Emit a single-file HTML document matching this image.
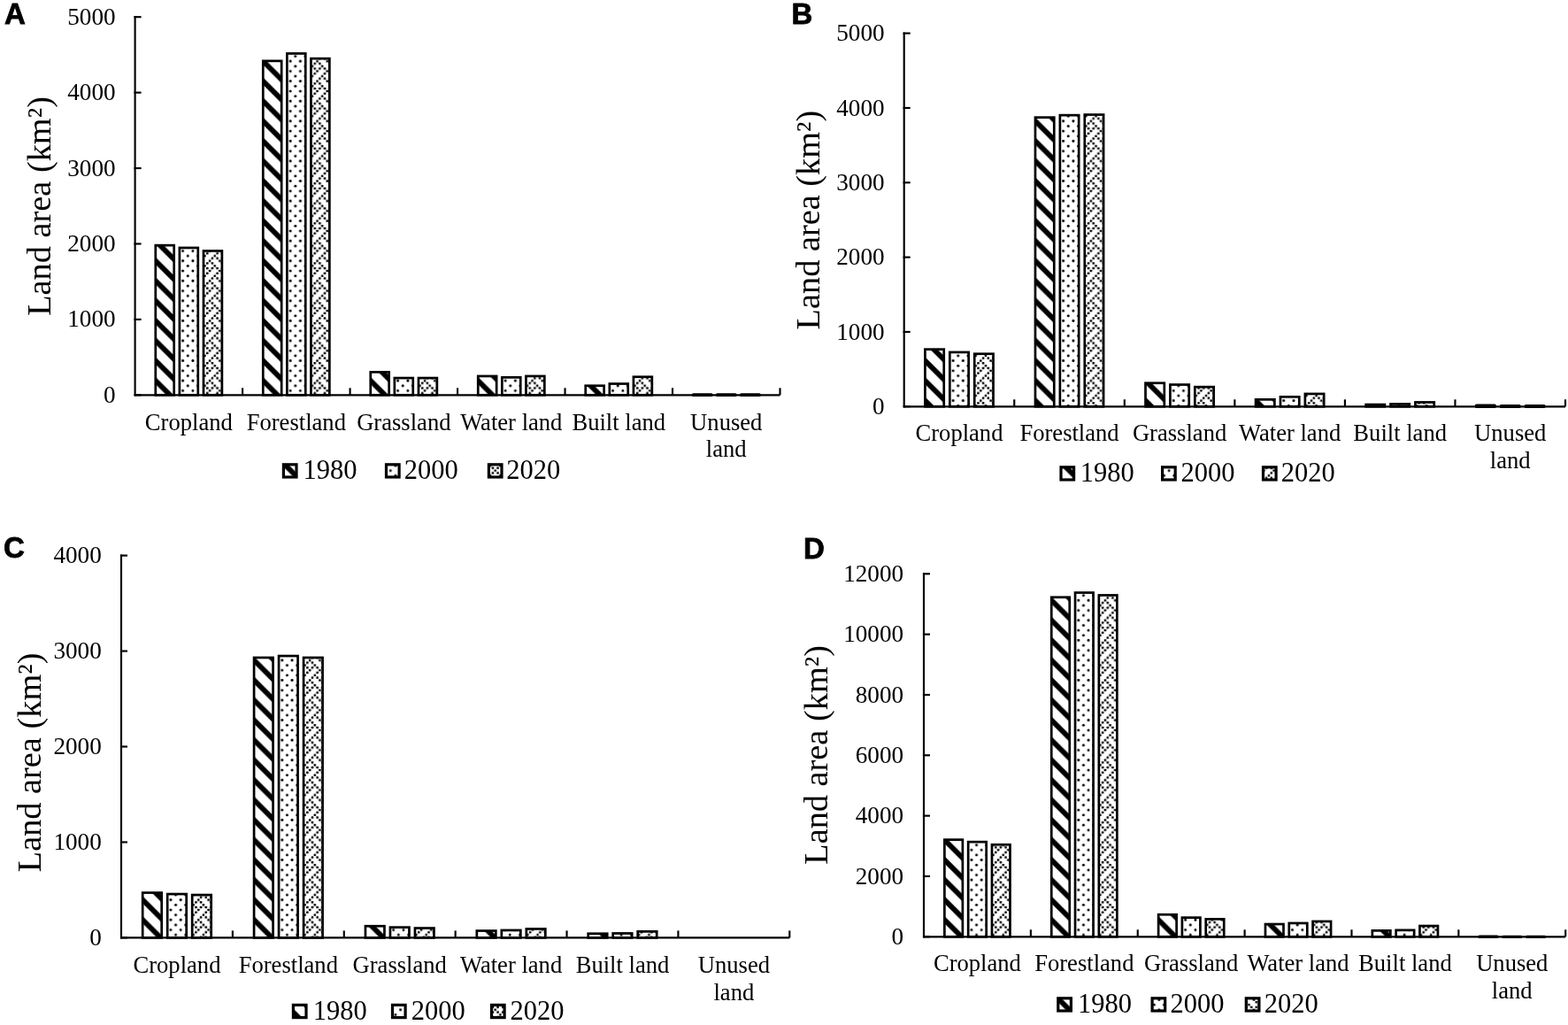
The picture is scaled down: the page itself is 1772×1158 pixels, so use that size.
<!DOCTYPE html>
<html><head><meta charset="utf-8"><title>Land area by land-use type</title><style>html,body{margin:0;padding:0;background:#fff;}body{width:1772px;height:1158px;overflow:hidden;}svg{display:block;}</style></head><body>
<svg width="1772" height="1158" viewBox="0 0 1772 1158">
<defs><pattern id="p1980" patternUnits="userSpaceOnUse" width="22.56" height="22.56"><rect width="22.56" height="22.56" fill="#fff"/><path d="M-6,-6L28.56,28.56 M-6,16.56 L6,28.56 M16.56,-6 L28.56,6" stroke="#000" stroke-width="5.8"/></pattern><pattern id="p2000" patternUnits="userSpaceOnUse" width="22.56" height="22.56"><rect width="22.56" height="22.56" fill="#fff"/><circle cx="1.41" cy="1.41" r="1.5"/><circle cx="12.69" cy="1.41" r="1.5"/><circle cx="7.05" cy="7.05" r="1.5"/><circle cx="18.33" cy="7.05" r="1.5"/><circle cx="1.41" cy="12.69" r="1.5"/><circle cx="12.69" cy="12.69" r="1.5"/><circle cx="7.05" cy="18.33" r="1.5"/><circle cx="18.33" cy="18.33" r="1.5"/></pattern><pattern id="p2020" patternUnits="userSpaceOnUse" width="22.56" height="22.56"><rect width="22.56" height="22.56" fill="#fff"/><rect x="5.78" y="0.14" width="2.55" height="2.55" rx="0.6"/><rect x="17.05" y="0.14" width="2.55" height="2.55" rx="0.6"/><rect x="2.95" y="2.95" width="2.55" height="2.55" rx="0.6"/><rect x="8.59" y="2.95" width="2.55" height="2.55" rx="0.6"/><rect x="19.88" y="2.95" width="2.55" height="2.55" rx="0.6"/><rect x="0.14" y="5.78" width="2.55" height="2.55" rx="0.6"/><rect x="11.41" y="5.78" width="2.55" height="2.55" rx="0.6"/><rect x="2.95" y="8.59" width="2.55" height="2.55" rx="0.6"/><rect x="8.59" y="8.59" width="2.55" height="2.55" rx="0.6"/><rect x="14.23" y="8.59" width="2.55" height="2.55" rx="0.6"/><rect x="19.88" y="8.59" width="2.55" height="2.55" rx="0.6"/><rect x="5.78" y="11.41" width="2.55" height="2.55" rx="0.6"/><rect x="17.05" y="11.41" width="2.55" height="2.55" rx="0.6"/><rect x="2.95" y="14.23" width="2.55" height="2.55" rx="0.6"/><rect x="14.23" y="14.23" width="2.55" height="2.55" rx="0.6"/><rect x="19.88" y="14.23" width="2.55" height="2.55" rx="0.6"/><rect x="0.14" y="17.05" width="2.55" height="2.55" rx="0.6"/><rect x="11.41" y="17.05" width="2.55" height="2.55" rx="0.6"/><rect x="8.59" y="19.88" width="2.55" height="2.55" rx="0.6"/><rect x="14.23" y="19.88" width="2.55" height="2.55" rx="0.6"/><rect x="19.88" y="19.88" width="2.55" height="2.55" rx="0.6"/></pattern></defs>
<rect width="1772" height="1158" fill="#fff"/>
<text x="5" y="27" font-family="'Liberation Sans', Arial, sans-serif" font-weight="bold" font-size="33" stroke="#000" stroke-width="0.8">A</text><line x1="151.53" y1="446.3" x2="159.6" y2="446.3" stroke="#000" stroke-width="2.15"/><text x="130.6" y="454.9" text-anchor="end" font-family="'Liberation Serif', 'Times New Roman', serif" font-size="27.2">0</text><line x1="151.53" y1="360.88" x2="159.6" y2="360.88" stroke="#000" stroke-width="2.15"/><text x="130.6" y="369.48" text-anchor="end" font-family="'Liberation Serif', 'Times New Roman', serif" font-size="27.2">1000</text><line x1="151.53" y1="275.46" x2="159.6" y2="275.46" stroke="#000" stroke-width="2.15"/><text x="130.6" y="284.06" text-anchor="end" font-family="'Liberation Serif', 'Times New Roman', serif" font-size="27.2">2000</text><line x1="151.53" y1="190.04" x2="159.6" y2="190.04" stroke="#000" stroke-width="2.15"/><text x="130.6" y="198.64" text-anchor="end" font-family="'Liberation Serif', 'Times New Roman', serif" font-size="27.2">3000</text><line x1="151.53" y1="104.62" x2="159.6" y2="104.62" stroke="#000" stroke-width="2.15"/><text x="130.6" y="113.22" text-anchor="end" font-family="'Liberation Serif', 'Times New Roman', serif" font-size="27.2">4000</text><line x1="151.53" y1="19.2" x2="159.6" y2="19.2" stroke="#000" stroke-width="2.15"/><text x="130.6" y="27.8" text-anchor="end" font-family="'Liberation Serif', 'Times New Roman', serif" font-size="27.2">5000</text><line x1="152.6" y1="18.12" x2="152.6" y2="447.38" stroke="#000" stroke-width="2.15"/><line x1="152.6" y1="446.3" x2="881.5" y2="446.3" stroke="#000" stroke-width="2.15"/><line x1="274.08" y1="446.3" x2="274.08" y2="438.3" stroke="#000" stroke-width="2.15"/><line x1="395.57" y1="446.3" x2="395.57" y2="438.3" stroke="#000" stroke-width="2.15"/><line x1="517.05" y1="446.3" x2="517.05" y2="438.3" stroke="#000" stroke-width="2.15"/><line x1="638.53" y1="446.3" x2="638.53" y2="438.3" stroke="#000" stroke-width="2.15"/><line x1="760.02" y1="446.3" x2="760.02" y2="438.3" stroke="#000" stroke-width="2.15"/><line x1="881.5" y1="446.3" x2="881.5" y2="438.3" stroke="#000" stroke-width="2.15"/><g transform="translate(174.44,0)"><rect x="1.35" y="277.15" width="20.9" height="169.15" fill="url(#p1980)" stroke="#000" stroke-width="2.7"/></g><g transform="translate(205.24,0)"><rect x="-2.35" y="279.95" width="20.9" height="166.35" fill="url(#p2000)" stroke="#000" stroke-width="2.7"/></g><g transform="translate(230.04,0)"><rect x="-0.05" y="283.45" width="20.9" height="162.85" fill="url(#p2020)" stroke="#000" stroke-width="2.7"/></g><g transform="translate(295.92,0)"><rect x="1.35" y="68.85" width="20.9" height="377.45" fill="url(#p1980)" stroke="#000" stroke-width="2.7"/></g><g transform="translate(326.72,0)"><rect x="-2.35" y="60.45" width="20.9" height="385.85" fill="url(#p2000)" stroke="#000" stroke-width="2.7"/></g><g transform="translate(351.52,0)"><rect x="-0.05" y="66.15" width="20.9" height="380.15" fill="url(#p2020)" stroke="#000" stroke-width="2.7"/></g><g transform="translate(417.41,0)"><rect x="1.35" y="420.35" width="20.9" height="25.95" fill="url(#p1980)" stroke="#000" stroke-width="2.7"/></g><g transform="translate(448.21,0)"><rect x="-2.35" y="427.05" width="20.9" height="19.25" fill="url(#p2000)" stroke="#000" stroke-width="2.7"/></g><g transform="translate(473.01,0)"><rect x="-0.05" y="427.05" width="20.9" height="19.25" fill="url(#p2020)" stroke="#000" stroke-width="2.7"/></g><g transform="translate(538.89,0)"><rect x="1.35" y="424.95" width="20.9" height="21.35" fill="url(#p1980)" stroke="#000" stroke-width="2.7"/></g><g transform="translate(569.69,0)"><rect x="-2.35" y="426.35" width="20.9" height="19.95" fill="url(#p2000)" stroke="#000" stroke-width="2.7"/></g><g transform="translate(594.49,0)"><rect x="-0.05" y="424.95" width="20.9" height="21.35" fill="url(#p2020)" stroke="#000" stroke-width="2.7"/></g><g transform="translate(660.38,0)"><rect x="1.35" y="435.75" width="20.9" height="10.55" fill="url(#p1980)" stroke="#000" stroke-width="2.7"/></g><g transform="translate(691.18,0)"><rect x="-2.35" y="433.55" width="20.9" height="12.75" fill="url(#p2000)" stroke="#000" stroke-width="2.7"/></g><g transform="translate(715.98,0)"><rect x="-0.05" y="425.75" width="20.9" height="20.55" fill="url(#p2020)" stroke="#000" stroke-width="2.7"/></g><rect x="781.86" y="444.2" width="23.6" height="3.8" rx="1.6" fill="#000"/><rect x="808.96" y="444.2" width="23.6" height="3.8" rx="1.6" fill="#000"/><rect x="836.06" y="444.2" width="23.6" height="3.8" rx="1.6" fill="#000"/><text transform="translate(213.34,485.7) scale(1,1.03)" text-anchor="middle" font-family="'Liberation Serif', 'Times New Roman', serif" font-size="26.6">Cropland</text><text transform="translate(334.82,485.7) scale(1,1.03)" text-anchor="middle" font-family="'Liberation Serif', 'Times New Roman', serif" font-size="26.6">Forestland</text><text transform="translate(456.31,485.7) scale(1,1.03)" text-anchor="middle" font-family="'Liberation Serif', 'Times New Roman', serif" font-size="26.6">Grassland</text><text transform="translate(577.79,485.7) scale(1,1.03)" text-anchor="middle" font-family="'Liberation Serif', 'Times New Roman', serif" font-size="26.6">Water land</text><text transform="translate(699.27,485.7) scale(1,1.03)" text-anchor="middle" font-family="'Liberation Serif', 'Times New Roman', serif" font-size="26.6">Built land</text><text transform="translate(820.76,485.7) scale(1,1.03)" text-anchor="middle" font-family="'Liberation Serif', 'Times New Roman', serif" font-size="26.6">Unused</text><text transform="translate(820.76,516.1) scale(1,1.03)" text-anchor="middle" font-family="'Liberation Serif', 'Times New Roman', serif" font-size="26.6">land</text><rect x="320.4" y="524.8" width="14.6" height="14.2" fill="url(#p1980)" stroke="#000" stroke-width="3.2"/><text x="342.6" y="540.9" font-family="'Liberation Serif', 'Times New Roman', serif" font-size="30.5">1980</text><rect x="436.5" y="524.8" width="14.6" height="14.2" fill="url(#p2000)" stroke="#000" stroke-width="3.2"/><text x="456.8" y="540.9" font-family="'Liberation Serif', 'Times New Roman', serif" font-size="30.5">2000</text><rect x="552.4" y="524.8" width="14.6" height="14.2" fill="url(#p2020)" stroke="#000" stroke-width="3.2"/><text x="572.3" y="540.9" font-family="'Liberation Serif', 'Times New Roman', serif" font-size="30.5">2020</text><text transform="translate(56.9,232.95) rotate(-90)" text-anchor="middle" font-family="'Liberation Serif', 'Times New Roman', serif" font-size="38.35">Land area (km&#178;)</text>
<text x="894.5" y="27" font-family="'Liberation Sans', Arial, sans-serif" font-weight="bold" font-size="33" stroke="#000" stroke-width="0.8">B</text><line x1="1020.62" y1="459.3" x2="1028.7" y2="459.3" stroke="#000" stroke-width="2.15"/><text x="999.6" y="467.9" text-anchor="end" font-family="'Liberation Serif', 'Times New Roman', serif" font-size="27.2">0</text><line x1="1020.62" y1="374.96" x2="1028.7" y2="374.96" stroke="#000" stroke-width="2.15"/><text x="999.6" y="383.56" text-anchor="end" font-family="'Liberation Serif', 'Times New Roman', serif" font-size="27.2">1000</text><line x1="1020.62" y1="290.62" x2="1028.7" y2="290.62" stroke="#000" stroke-width="2.15"/><text x="999.6" y="299.22" text-anchor="end" font-family="'Liberation Serif', 'Times New Roman', serif" font-size="27.2">2000</text><line x1="1020.62" y1="206.28" x2="1028.7" y2="206.28" stroke="#000" stroke-width="2.15"/><text x="999.6" y="214.88" text-anchor="end" font-family="'Liberation Serif', 'Times New Roman', serif" font-size="27.2">3000</text><line x1="1020.62" y1="121.94" x2="1028.7" y2="121.94" stroke="#000" stroke-width="2.15"/><text x="999.6" y="130.54" text-anchor="end" font-family="'Liberation Serif', 'Times New Roman', serif" font-size="27.2">4000</text><line x1="1020.62" y1="37.6" x2="1028.7" y2="37.6" stroke="#000" stroke-width="2.15"/><text x="999.6" y="46.2" text-anchor="end" font-family="'Liberation Serif', 'Times New Roman', serif" font-size="27.2">5000</text><line x1="1021.7" y1="36.52" x2="1021.7" y2="460.38" stroke="#000" stroke-width="2.15"/><line x1="1021.7" y1="459.3" x2="1769" y2="459.3" stroke="#000" stroke-width="2.15"/><line x1="1146.25" y1="459.3" x2="1146.25" y2="451.3" stroke="#000" stroke-width="2.15"/><line x1="1270.8" y1="459.3" x2="1270.8" y2="451.3" stroke="#000" stroke-width="2.15"/><line x1="1395.35" y1="459.3" x2="1395.35" y2="451.3" stroke="#000" stroke-width="2.15"/><line x1="1519.9" y1="459.3" x2="1519.9" y2="451.3" stroke="#000" stroke-width="2.15"/><line x1="1644.45" y1="459.3" x2="1644.45" y2="451.3" stroke="#000" stroke-width="2.15"/><line x1="1769" y1="459.3" x2="1769" y2="451.3" stroke="#000" stroke-width="2.15"/><g transform="translate(1044.08,0)"><rect x="1.35" y="394.65" width="21.3" height="64.65" fill="url(#p1980)" stroke="#000" stroke-width="2.7"/></g><g transform="translate(1075.68,0)"><rect x="-2.35" y="397.95" width="21.3" height="61.35" fill="url(#p2000)" stroke="#000" stroke-width="2.7"/></g><g transform="translate(1101.28,0)"><rect x="-0.05" y="399.75" width="21.3" height="59.55" fill="url(#p2020)" stroke="#000" stroke-width="2.7"/></g><g transform="translate(1168.62,0)"><rect x="1.35" y="132.65" width="21.3" height="326.65" fill="url(#p1980)" stroke="#000" stroke-width="2.7"/></g><g transform="translate(1200.23,0)"><rect x="-2.35" y="130.15" width="21.3" height="329.15" fill="url(#p2000)" stroke="#000" stroke-width="2.7"/></g><g transform="translate(1225.83,0)"><rect x="-0.05" y="129.55" width="21.3" height="329.75" fill="url(#p2020)" stroke="#000" stroke-width="2.7"/></g><g transform="translate(1293.17,0)"><rect x="1.35" y="432.75" width="21.3" height="26.55" fill="url(#p1980)" stroke="#000" stroke-width="2.7"/></g><g transform="translate(1324.78,0)"><rect x="-2.35" y="434.55" width="21.3" height="24.75" fill="url(#p2000)" stroke="#000" stroke-width="2.7"/></g><g transform="translate(1350.38,0)"><rect x="-0.05" y="437.15" width="21.3" height="22.15" fill="url(#p2020)" stroke="#000" stroke-width="2.7"/></g><g transform="translate(1417.72,0)"><rect x="1.35" y="451.35" width="21.3" height="7.95" fill="url(#p1980)" stroke="#000" stroke-width="2.7"/></g><g transform="translate(1449.33,0)"><rect x="-2.35" y="448.35" width="21.3" height="10.95" fill="url(#p2000)" stroke="#000" stroke-width="2.7"/></g><g transform="translate(1474.93,0)"><rect x="-0.05" y="444.95" width="21.3" height="14.35" fill="url(#p2020)" stroke="#000" stroke-width="2.7"/></g><g transform="translate(1542.28,0)"><rect x="1.35" y="457.05" width="21.3" height="2.25" fill="url(#p1980)" stroke="#000" stroke-width="2.7"/></g><g transform="translate(1573.88,0)"><rect x="-2.35" y="456.45" width="21.3" height="2.85" fill="url(#p2000)" stroke="#000" stroke-width="2.7"/></g><g transform="translate(1599.48,0)"><rect x="-0.05" y="454.45" width="21.3" height="4.85" fill="url(#p2020)" stroke="#000" stroke-width="2.7"/></g><rect x="1666.82" y="456.6" width="24" height="4.4" rx="1.6" fill="#000"/><rect x="1694.72" y="456.9" width="24" height="4.1" rx="1.6" fill="#000"/><rect x="1722.62" y="456.9" width="24" height="4.1" rx="1.6" fill="#000"/><text transform="translate(1083.98,498) scale(1,1.03)" text-anchor="middle" font-family="'Liberation Serif', 'Times New Roman', serif" font-size="26.6">Cropland</text><text transform="translate(1208.53,498) scale(1,1.03)" text-anchor="middle" font-family="'Liberation Serif', 'Times New Roman', serif" font-size="26.6">Forestland</text><text transform="translate(1333.08,498) scale(1,1.03)" text-anchor="middle" font-family="'Liberation Serif', 'Times New Roman', serif" font-size="26.6">Grassland</text><text transform="translate(1457.62,498) scale(1,1.03)" text-anchor="middle" font-family="'Liberation Serif', 'Times New Roman', serif" font-size="26.6">Water land</text><text transform="translate(1582.18,498) scale(1,1.03)" text-anchor="middle" font-family="'Liberation Serif', 'Times New Roman', serif" font-size="26.6">Built land</text><text transform="translate(1706.72,498) scale(1,1.03)" text-anchor="middle" font-family="'Liberation Serif', 'Times New Roman', serif" font-size="26.6">Unused</text><text transform="translate(1706.72,529.4) scale(1,1.03)" text-anchor="middle" font-family="'Liberation Serif', 'Times New Roman', serif" font-size="26.6">land</text><rect x="1199" y="527.8" width="14.6" height="14.2" fill="url(#p1980)" stroke="#000" stroke-width="3.2"/><text x="1220.8" y="544" font-family="'Liberation Serif', 'Times New Roman', serif" font-size="30.5">1980</text><rect x="1313.6" y="527.8" width="14.6" height="14.2" fill="url(#p2000)" stroke="#000" stroke-width="3.2"/><text x="1334.4" y="544" font-family="'Liberation Serif', 'Times New Roman', serif" font-size="30.5">2000</text><rect x="1427.5" y="527.8" width="14.6" height="14.2" fill="url(#p2020)" stroke="#000" stroke-width="3.2"/><text x="1447.8" y="544" font-family="'Liberation Serif', 'Times New Roman', serif" font-size="30.5">2020</text><text transform="translate(926.3,248.55) rotate(-90)" text-anchor="middle" font-family="'Liberation Serif', 'Times New Roman', serif" font-size="38.35">Land area (km&#178;)</text>
<text x="4" y="630" font-family="'Liberation Sans', Arial, sans-serif" font-weight="bold" font-size="33" stroke="#000" stroke-width="0.8">C</text><line x1="135.93" y1="1059.4" x2="144" y2="1059.4" stroke="#000" stroke-width="2.15"/><text x="114.8" y="1068" text-anchor="end" font-family="'Liberation Serif', 'Times New Roman', serif" font-size="27.2">0</text><line x1="135.93" y1="951.45" x2="144" y2="951.45" stroke="#000" stroke-width="2.15"/><text x="114.8" y="960.05" text-anchor="end" font-family="'Liberation Serif', 'Times New Roman', serif" font-size="27.2">1000</text><line x1="135.93" y1="843.5" x2="144" y2="843.5" stroke="#000" stroke-width="2.15"/><text x="114.8" y="852.1" text-anchor="end" font-family="'Liberation Serif', 'Times New Roman', serif" font-size="27.2">2000</text><line x1="135.93" y1="735.55" x2="144" y2="735.55" stroke="#000" stroke-width="2.15"/><text x="114.8" y="744.15" text-anchor="end" font-family="'Liberation Serif', 'Times New Roman', serif" font-size="27.2">3000</text><line x1="135.93" y1="627.6" x2="144" y2="627.6" stroke="#000" stroke-width="2.15"/><text x="114.8" y="636.2" text-anchor="end" font-family="'Liberation Serif', 'Times New Roman', serif" font-size="27.2">4000</text><line x1="137" y1="626.52" x2="137" y2="1060.48" stroke="#000" stroke-width="2.15"/><line x1="137" y1="1059.4" x2="892.3" y2="1059.4" stroke="#000" stroke-width="2.15"/><line x1="262.88" y1="1059.4" x2="262.88" y2="1051.4" stroke="#000" stroke-width="2.15"/><line x1="388.77" y1="1059.4" x2="388.77" y2="1051.4" stroke="#000" stroke-width="2.15"/><line x1="514.65" y1="1059.4" x2="514.65" y2="1051.4" stroke="#000" stroke-width="2.15"/><line x1="640.53" y1="1059.4" x2="640.53" y2="1051.4" stroke="#000" stroke-width="2.15"/><line x1="766.42" y1="1059.4" x2="766.42" y2="1051.4" stroke="#000" stroke-width="2.15"/><line x1="892.3" y1="1059.4" x2="892.3" y2="1051.4" stroke="#000" stroke-width="2.15"/><g transform="translate(159.84,0)"><rect x="1.35" y="1008.55" width="21.5" height="50.85" fill="url(#p1980)" stroke="#000" stroke-width="2.7"/></g><g transform="translate(191.54,0)"><rect x="-2.35" y="1010.05" width="21.5" height="49.35" fill="url(#p2000)" stroke="#000" stroke-width="2.7"/></g><g transform="translate(217.24,0)"><rect x="-0.05" y="1011.05" width="21.5" height="48.35" fill="url(#p2020)" stroke="#000" stroke-width="2.7"/></g><g transform="translate(285.72,0)"><rect x="1.35" y="742.95" width="21.5" height="316.45" fill="url(#p1980)" stroke="#000" stroke-width="2.7"/></g><g transform="translate(317.42,0)"><rect x="-2.35" y="741.05" width="21.5" height="318.35" fill="url(#p2000)" stroke="#000" stroke-width="2.7"/></g><g transform="translate(343.12,0)"><rect x="-0.05" y="742.95" width="21.5" height="316.45" fill="url(#p2020)" stroke="#000" stroke-width="2.7"/></g><g transform="translate(411.61,0)"><rect x="1.35" y="1046.25" width="21.5" height="13.15" fill="url(#p1980)" stroke="#000" stroke-width="2.7"/></g><g transform="translate(443.31,0)"><rect x="-2.35" y="1047.65" width="21.5" height="11.75" fill="url(#p2000)" stroke="#000" stroke-width="2.7"/></g><g transform="translate(469.01,0)"><rect x="-0.05" y="1048.55" width="21.5" height="10.85" fill="url(#p2020)" stroke="#000" stroke-width="2.7"/></g><g transform="translate(537.49,0)"><rect x="1.35" y="1051.55" width="21.5" height="7.85" fill="url(#p1980)" stroke="#000" stroke-width="2.7"/></g><g transform="translate(569.19,0)"><rect x="-2.35" y="1050.95" width="21.5" height="8.45" fill="url(#p2000)" stroke="#000" stroke-width="2.7"/></g><g transform="translate(594.89,0)"><rect x="-0.05" y="1049.45" width="21.5" height="9.95" fill="url(#p2020)" stroke="#000" stroke-width="2.7"/></g><g transform="translate(663.37,0)"><rect x="1.35" y="1054.75" width="21.5" height="4.65" fill="url(#p1980)" stroke="#000" stroke-width="2.7"/></g><g transform="translate(695.07,0)"><rect x="-2.35" y="1054.45" width="21.5" height="4.95" fill="url(#p2000)" stroke="#000" stroke-width="2.7"/></g><g transform="translate(720.77,0)"><rect x="-0.05" y="1052.35" width="21.5" height="7.05" fill="url(#p2020)" stroke="#000" stroke-width="2.7"/></g><text transform="translate(199.94,1099.3) scale(1,1.03)" text-anchor="middle" font-family="'Liberation Serif', 'Times New Roman', serif" font-size="26.6">Cropland</text><text transform="translate(325.82,1099.3) scale(1,1.03)" text-anchor="middle" font-family="'Liberation Serif', 'Times New Roman', serif" font-size="26.6">Forestland</text><text transform="translate(451.71,1099.3) scale(1,1.03)" text-anchor="middle" font-family="'Liberation Serif', 'Times New Roman', serif" font-size="26.6">Grassland</text><text transform="translate(577.59,1099.3) scale(1,1.03)" text-anchor="middle" font-family="'Liberation Serif', 'Times New Roman', serif" font-size="26.6">Water land</text><text transform="translate(703.47,1099.3) scale(1,1.03)" text-anchor="middle" font-family="'Liberation Serif', 'Times New Roman', serif" font-size="26.6">Built land</text><text transform="translate(829.36,1099.3) scale(1,1.03)" text-anchor="middle" font-family="'Liberation Serif', 'Times New Roman', serif" font-size="26.6">Unused</text><text transform="translate(829.36,1129.8) scale(1,1.03)" text-anchor="middle" font-family="'Liberation Serif', 'Times New Roman', serif" font-size="26.6">land</text><rect x="331.4" y="1135.4" width="14.6" height="14.2" fill="url(#p1980)" stroke="#000" stroke-width="3.2"/><text x="353.8" y="1152" font-family="'Liberation Serif', 'Times New Roman', serif" font-size="30.5">1980</text><rect x="443.5" y="1135.4" width="14.6" height="14.2" fill="url(#p2000)" stroke="#000" stroke-width="3.2"/><text x="464.8" y="1152" font-family="'Liberation Serif', 'Times New Roman', serif" font-size="30.5">2000</text><rect x="555.5" y="1135.4" width="14.6" height="14.2" fill="url(#p2020)" stroke="#000" stroke-width="3.2"/><text x="576.4" y="1152" font-family="'Liberation Serif', 'Times New Roman', serif" font-size="30.5">2020</text><text transform="translate(45.6,861.4) rotate(-90)" text-anchor="middle" font-family="'Liberation Serif', 'Times New Roman', serif" font-size="38.35">Land area (km&#178;)</text>
<text x="908" y="630.8" font-family="'Liberation Sans', Arial, sans-serif" font-weight="bold" font-size="33" stroke="#000" stroke-width="0.8">D</text><line x1="1042.92" y1="1058.3" x2="1051" y2="1058.3" stroke="#000" stroke-width="2.15"/><text x="1021.1" y="1066.9" text-anchor="end" font-family="'Liberation Serif', 'Times New Roman', serif" font-size="27.2">0</text><line x1="1042.92" y1="989.97" x2="1051" y2="989.97" stroke="#000" stroke-width="2.15"/><text x="1021.1" y="998.57" text-anchor="end" font-family="'Liberation Serif', 'Times New Roman', serif" font-size="27.2">2000</text><line x1="1042.92" y1="921.63" x2="1051" y2="921.63" stroke="#000" stroke-width="2.15"/><text x="1021.1" y="930.23" text-anchor="end" font-family="'Liberation Serif', 'Times New Roman', serif" font-size="27.2">4000</text><line x1="1042.92" y1="853.3" x2="1051" y2="853.3" stroke="#000" stroke-width="2.15"/><text x="1021.1" y="861.9" text-anchor="end" font-family="'Liberation Serif', 'Times New Roman', serif" font-size="27.2">6000</text><line x1="1042.92" y1="784.97" x2="1051" y2="784.97" stroke="#000" stroke-width="2.15"/><text x="1021.1" y="793.57" text-anchor="end" font-family="'Liberation Serif', 'Times New Roman', serif" font-size="27.2">8000</text><line x1="1042.92" y1="716.63" x2="1051" y2="716.63" stroke="#000" stroke-width="2.15"/><text x="1021.1" y="725.23" text-anchor="end" font-family="'Liberation Serif', 'Times New Roman', serif" font-size="27.2">10000</text><line x1="1042.92" y1="648.3" x2="1051" y2="648.3" stroke="#000" stroke-width="2.15"/><text x="1021.1" y="656.9" text-anchor="end" font-family="'Liberation Serif', 'Times New Roman', serif" font-size="27.2">12000</text><line x1="1044" y1="647.22" x2="1044" y2="1059.38" stroke="#000" stroke-width="2.15"/><line x1="1044" y1="1058.3" x2="1769.2" y2="1058.3" stroke="#000" stroke-width="2.15"/><line x1="1164.87" y1="1058.3" x2="1164.87" y2="1050.3" stroke="#000" stroke-width="2.15"/><line x1="1285.73" y1="1058.3" x2="1285.73" y2="1050.3" stroke="#000" stroke-width="2.15"/><line x1="1406.6" y1="1058.3" x2="1406.6" y2="1050.3" stroke="#000" stroke-width="2.15"/><line x1="1527.47" y1="1058.3" x2="1527.47" y2="1050.3" stroke="#000" stroke-width="2.15"/><line x1="1648.33" y1="1058.3" x2="1648.33" y2="1050.3" stroke="#000" stroke-width="2.15"/><line x1="1769.2" y1="1058.3" x2="1769.2" y2="1050.3" stroke="#000" stroke-width="2.15"/><g transform="translate(1066.03,0)"><rect x="1.35" y="948.65" width="20.5" height="109.65" fill="url(#p1980)" stroke="#000" stroke-width="2.7"/></g><g transform="translate(1096.53,0)"><rect x="-2.35" y="951.15" width="20.5" height="107.15" fill="url(#p2000)" stroke="#000" stroke-width="2.7"/></g><g transform="translate(1121.03,0)"><rect x="-0.05" y="954.25" width="20.5" height="104.05" fill="url(#p2020)" stroke="#000" stroke-width="2.7"/></g><g transform="translate(1186.9,0)"><rect x="1.35" y="674.75" width="20.5" height="383.55" fill="url(#p1980)" stroke="#000" stroke-width="2.7"/></g><g transform="translate(1217.4,0)"><rect x="-2.35" y="669.55" width="20.5" height="388.75" fill="url(#p2000)" stroke="#000" stroke-width="2.7"/></g><g transform="translate(1241.9,0)"><rect x="-0.05" y="672.45" width="20.5" height="385.85" fill="url(#p2020)" stroke="#000" stroke-width="2.7"/></g><g transform="translate(1307.77,0)"><rect x="1.35" y="1033.25" width="20.5" height="25.05" fill="url(#p1980)" stroke="#000" stroke-width="2.7"/></g><g transform="translate(1338.27,0)"><rect x="-2.35" y="1036.65" width="20.5" height="21.65" fill="url(#p2000)" stroke="#000" stroke-width="2.7"/></g><g transform="translate(1362.77,0)"><rect x="-0.05" y="1038.35" width="20.5" height="19.95" fill="url(#p2020)" stroke="#000" stroke-width="2.7"/></g><g transform="translate(1428.63,0)"><rect x="1.35" y="1044.05" width="20.5" height="14.25" fill="url(#p1980)" stroke="#000" stroke-width="2.7"/></g><g transform="translate(1459.13,0)"><rect x="-2.35" y="1042.95" width="20.5" height="15.35" fill="url(#p2000)" stroke="#000" stroke-width="2.7"/></g><g transform="translate(1483.63,0)"><rect x="-0.05" y="1040.95" width="20.5" height="17.35" fill="url(#p2020)" stroke="#000" stroke-width="2.7"/></g><g transform="translate(1549.5,0)"><rect x="1.35" y="1051.35" width="20.5" height="6.95" fill="url(#p1980)" stroke="#000" stroke-width="2.7"/></g><g transform="translate(1580,0)"><rect x="-2.35" y="1050.85" width="20.5" height="7.45" fill="url(#p2000)" stroke="#000" stroke-width="2.7"/></g><g transform="translate(1604.5,0)"><rect x="-0.05" y="1046.05" width="20.5" height="12.25" fill="url(#p2020)" stroke="#000" stroke-width="2.7"/></g><rect x="1670.37" y="1056.4" width="23.2" height="3.6" rx="1.6" fill="#000"/><rect x="1697.17" y="1056.8" width="23.2" height="3.2" rx="1.6" fill="#000"/><rect x="1723.97" y="1056.8" width="23.2" height="3.2" rx="1.6" fill="#000"/><text transform="translate(1104.43,1096.9) scale(1,1.03)" text-anchor="middle" font-family="'Liberation Serif', 'Times New Roman', serif" font-size="26.6">Cropland</text><text transform="translate(1225.3,1096.9) scale(1,1.03)" text-anchor="middle" font-family="'Liberation Serif', 'Times New Roman', serif" font-size="26.6">Forestland</text><text transform="translate(1346.17,1096.9) scale(1,1.03)" text-anchor="middle" font-family="'Liberation Serif', 'Times New Roman', serif" font-size="26.6">Grassland</text><text transform="translate(1467.03,1096.9) scale(1,1.03)" text-anchor="middle" font-family="'Liberation Serif', 'Times New Roman', serif" font-size="26.6">Water land</text><text transform="translate(1587.9,1096.9) scale(1,1.03)" text-anchor="middle" font-family="'Liberation Serif', 'Times New Roman', serif" font-size="26.6">Built land</text><text transform="translate(1708.77,1096.9) scale(1,1.03)" text-anchor="middle" font-family="'Liberation Serif', 'Times New Roman', serif" font-size="26.6">Unused</text><text transform="translate(1708.77,1128.3) scale(1,1.03)" text-anchor="middle" font-family="'Liberation Serif', 'Times New Roman', serif" font-size="26.6">land</text><rect x="1195.8" y="1127.8" width="14.6" height="14.2" fill="url(#p1980)" stroke="#000" stroke-width="3.2"/><text x="1217.9" y="1143.5" font-family="'Liberation Serif', 'Times New Roman', serif" font-size="30.5">1980</text><rect x="1302.1" y="1127.8" width="14.6" height="14.2" fill="url(#p2000)" stroke="#000" stroke-width="3.2"/><text x="1322.6" y="1143.5" font-family="'Liberation Serif', 'Times New Roman', serif" font-size="30.5">2000</text><rect x="1408.3" y="1127.8" width="14.6" height="14.2" fill="url(#p2020)" stroke="#000" stroke-width="3.2"/><text x="1428.7" y="1143.5" font-family="'Liberation Serif', 'Times New Roman', serif" font-size="30.5">2020</text><text transform="translate(935,852.9) rotate(-90)" text-anchor="middle" font-family="'Liberation Serif', 'Times New Roman', serif" font-size="38.35">Land area (km&#178;)</text>
</svg>
</body></html>
